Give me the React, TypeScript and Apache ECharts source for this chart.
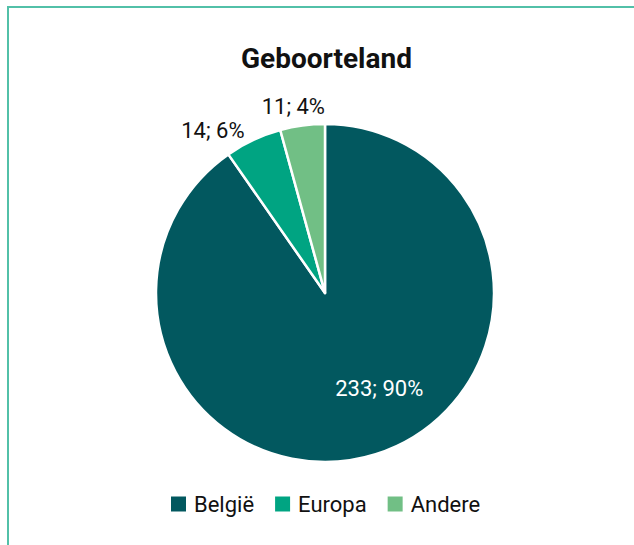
import React, { useEffect, useRef } from "react";
import * as echarts from "echarts";

const title = "Geboorteland";
const categories = ["België", "Europa", "Andere"];
const values = [233, 14, 11];
const colors = ["#02585F", "#00A482", "#71BF85"];

export default function App() {
  const ref = useRef<HTMLDivElement>(null);
  useEffect(() => {
    if (!ref.current) return;
    const chart = echarts.init(ref.current, null, { renderer: "svg" });
    const labelOffsets: [number, number][] = [[28, 12], [-75, -83], [-20, -100]];
    const labelColors = ["#ffffff", "#111111", "#111111"];
    chart.setOption({
      animation: false,
      backgroundColor: "#ffffff",
      textStyle: { fontFamily: "Roboto" },
      title: {
        text: title,
        left: 236,
        top: 39,
        textStyle: { fontFamily: "Roboto", fontWeight: "bold", fontSize: 28, color: "#111111" },
      },
      legend: {
        data: categories,
        bottom: 25,
        left: 164,
        icon: "rect",
        itemWidth: 17,
        itemHeight: 17,
        itemGap: 19,
        textStyle: { fontFamily: "Roboto", fontSize: 22, color: "#111111", padding: [0, 0, 0, 2] },
      },
      graphic: [
        {
          type: "rect",
          shape: { x: 8, y: 7, width: 700, height: 600 },
          style: { fill: "none", stroke: "#52C0A8", lineWidth: 2 },
          silent: true,
        },
      ],
      series: [
        {
          type: "pie",
          center: [325, 293],
          radius: 169,
          startAngle: 90,
          clockwise: true,
          percentPrecision: 0,
          itemStyle: { borderColor: "#ffffff", borderWidth: 2.5 },
          labelLine: { show: false },
          data: categories.map((name, i) => ({
            name,
            value: values[i],
            itemStyle: { color: colors[i] },
            label: {
              show: true,
              position: "inside",
              formatter: "{c}; {d}%",
              fontFamily: "Roboto",
              fontSize: 22,
              color: labelColors[i],
              offset: labelOffsets[i],
            },
          })),
        },
      ],
    });
    return () => chart.dispose();
  }, []);
  return (
    <div
      ref={ref}
      style={{ position: "fixed", left: 0, top: 0, width: 634, height: 545 }}
    />
  );
}
